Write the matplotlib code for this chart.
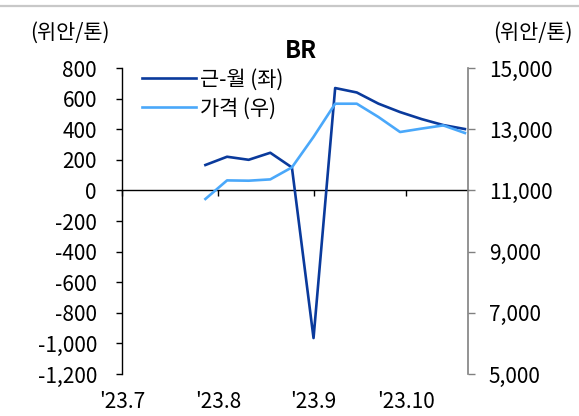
import numpy as np
import matplotlib
matplotlib.use("Agg")
import matplotlib.pyplot as plt
from matplotlib.lines import Line2D

plt.rcParams['font.family'] = ['Noto Sans CJK KR', 'DejaVu Sans']

# weekly data
dates = np.array(['2023-07-28', '2023-08-04', '2023-08-11', '2023-08-18', '2023-08-25',
                  '2023-09-01', '2023-09-08', '2023-09-15', '2023-09-22', '2023-09-29',
                  '2023-10-06', '2023-10-13', '2023-10-20'], dtype='datetime64[D]')
spread = [166, 220, 200, 246, 150, -965, 669, 640, 567, 512, 466, 427, 401]
price = [10720, 11327, 11317, 11360, 11752, 12750, 13833, 13833, 13399, 12908, 13020, 13124, 12876]

month_ticks = np.array(['2023-07-01', '2023-08-01', '2023-09-01', '2023-10-01'], dtype='datetime64[D]')
month_labels = ["'23.7", "'23.8", "'23.9", "'23.10"]

DARK = "#0a3a9c"
LIGHT = "#4aa8fa"

fig = plt.figure(figsize=(5.79, 4.16), dpi=100, facecolor="white")
ax = fig.add_axes([122 / 579, 1 - 374 / 416, (468 - 122) / 579, (374 - 68) / 416])
ax2 = ax.twinx()

ax.plot(dates, spread, color=DARK, linewidth=1.9, label="근-월 (좌)", zorder=3)
ax2.plot(dates, price, color=LIGHT, linewidth=1.9, label="가격 (우)", zorder=2)

ax.set_xlim(np.datetime64('2023-07-01'), np.datetime64('2023-10-21'))
ax.set_ylim(-1200, 800)
ax.set_yticks(np.arange(-1200, 801, 200))
ax.set_yticklabels([f"{v:,}" for v in range(-1200, 801, 200)])
ax2.set_ylim(5000, 15000)
ax2.set_yticks(np.arange(5000, 15001, 2000))
ax2.set_yticklabels([f"{v:,}" for v in range(5000, 15001, 2000)])

ax.spines["top"].set_visible(False)
ax.spines["right"].set_visible(False)
ax.spines["bottom"].set_position(("data", 0))
ax.spines["bottom"].set_linewidth(1.0)
ax.spines["left"].set_linewidth(1.0)
for s in ["top", "left", "bottom"]:
    ax2.spines[s].set_visible(False)
ax2.spines["right"].set_color("#808080")
ax2.spines["right"].set_linewidth(1.2)

ax.set_xticks(month_ticks)
ax.tick_params(axis="x", direction="out", length=4, width=1, labelbottom=False)
ax.tick_params(axis="y", direction="out", length=4, width=1, pad=14, labelsize=15)
ax2.tick_params(axis="y", direction="out", length=5, width=1, color="#808080",
                pad=10, labelsize=15)

for d, lab in zip(month_ticks, month_labels):
    ax.text(d, -0.09, lab, transform=ax.get_xaxis_transform(),
            ha="center", va="center", fontsize=15)

fig.text(70 / 579, 1 - 33 / 416, "(위안/톤)", ha="center", va="center", fontsize=15)
fig.text(533 / 579, 1 - 33 / 416, "(위안/톤)", ha="center", va="center", fontsize=15)
fig.text(301 / 579, 1 - 51 / 416, "BR", ha="center", va="center", fontsize=17,
         fontweight="bold")

h1, l1 = ax.get_legend_handles_labels()
h2, l2 = ax2.get_legend_handles_labels()
ax.legend(h1 + h2, l1 + l2, loc="upper left", bbox_to_anchor=(0.035, 1.025),
          frameon=False, fontsize=15, handlelength=2.55, handletextpad=0.2,
          labelspacing=0.32, borderaxespad=0)

fig.add_artist(Line2D([0, 1], [1 - 5.5 / 416, 1 - 5.5 / 416], color="#c8c8c8",
                      linewidth=1.6))

fig.savefig("out.png", dpi=100, facecolor="white")
